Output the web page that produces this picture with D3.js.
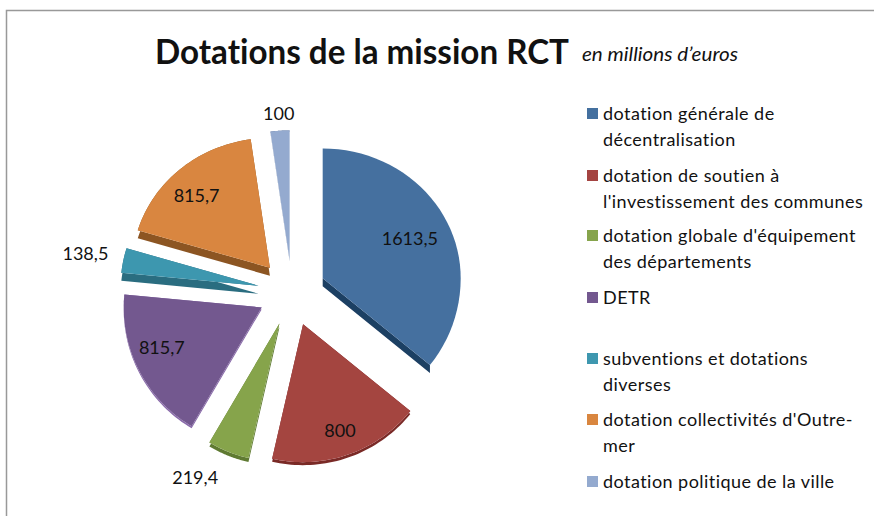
<!DOCTYPE html>
<html>
<head>
<meta charset="utf-8">
<script src="https://cdn.jsdelivr.net/npm/d3@7"></script>
<style>
    html, body { margin: 0; padding: 0; background: #fff; }
    svg { display: block; }
    text { font-family: Lato, "Open Sans", sans-serif; fill: #111; font-variant-ligatures: none; }
</style>
</head>
<body>
<div id="chart"></div>
<script>
const categories = [
    ["dotation générale de", "décentralisation"],
    ["dotation de soutien à", "l'investissement des communes"],
    ["dotation globale d'équipement", "des départements"],
    ["DETR"],
    ["subventions et dotations", "diverses"],
    ["dotation collectivités d'Outre-", "mer"],
    ["dotation politique de la ville"]
];
const values = [1613.5, 800, 219.4, 815.7, 138.5, 815.7, 100];
const valueLabels = ["1613,5", "800", "219,4", "815,7", "138,5", "815,7", "100"];

const colors = ["#44709f", "#a44441", "#86a44c", "#73588f", "#3e97af", "#d9863f", "#94aacf"];
const sideColors = ["#1f3f63", "#7a2a28", "#5f7a33", "#8a6bab", "#2b6d80", "#8c5524", "#4f678f"];
const edgeDepth = [8, 3, 4, 2, 8, 8, 1];
const arcDepth = [0, 3, 4, 2, 8, 8, 1];
const labelRadius = [0.70, 0.82, 1.27, 0.78, 1.28, 0.77, 1.13]; // share of the slice radius
const labelTurn = [0, 0, 7, 5, 0, -3, 0]; // degrees away from the slice middle
const legendRowY = [114, 176, 236, 298, 359, 420, 482];

const width = 874, height = 516;
const cx = 292, cy = 292, radius = 138, explode = 34;
const topSquash = 0.94; // the far side of the pie is foreshortened

const svg = d3.select("#chart").append("svg")
    .attr("width", width)
    .attr("height", height);

svg.append("filter").attr("id", "soft")
    .append("feGaussianBlur").attr("stdDeviation", 0.4);

// frame, only top and left are visible
svg.append("path")
    .attr("d", d3.line()([[width, 10.5], [6.5, 10.5], [6.5, height]]))
    .attr("fill", "none")
    .attr("stroke", "#999")
    .attr("stroke-width", 1.5);

svg.append("text")
    .attr("x", 155).attr("y", 64)
    .attr("font-size", 34)
    .attr("font-weight", 700)
    .attr("textLength", 414)
    .attr("lengthAdjust", "spacingAndGlyphs")
    .text("Dotations de la mission RCT");
svg.append("text")
    .attr("x", 582).attr("y", 61)
    .attr("font-size", 18.5)
    .attr("font-style", "italic")
    .attr("textLength", 156)
    .attr("lengthAdjust", "spacingAndGlyphs")
    .text("en millions d’euros");

const pie = d3.pie().sort(null)(values);
const midAngle = d => (d.startAngle + d.endAngle) / 2;

function project(angle, r) {
    const c = Math.cos(angle);
    return [r * Math.sin(angle), -r * c * (c > 0 ? topSquash : 1)];
}

function sliceOutline(d) {
    const steps = d3.range(0, 41).map(i => d.startAngle + (d.endAngle - d.startAngle) * i / 40);
    return [[0, 0]].concat(steps.map(a => project(a, radius)));
}

function labelPoint(d, i) {
    return project(midAngle(d) + labelTurn[i] * Math.PI / 180, radius * labelRadius[i]);
}

const line = d3.line();

const slices = svg.append("g")
    .attr("transform", `translate(${cx},${cy})`)
    .selectAll("g")
    .data(pie)
    .join("g")
    .attr("transform", d => {
        const o = project(midAngle(d), explode);
        return `translate(${o[0]},${o[1]})`;
    });

// side faces: one quad for every edge of the outline, pushed down by the depth
slices.append("path")
    .attr("fill", (d, i) => sideColors[i])
    .attr("filter", "url(#soft)")
    .attr("d", (d, i) => {
        const pts = sliceOutline(d);
        return pts.map((p, j) => {
            const q = pts[(j + 1) % pts.length];
            const straight = j === 0 || j === pts.length - 1;
            const depth = straight ? edgeDepth[i] : arcDepth[i];
            return line([p, q, [q[0], q[1] + depth], [p[0], p[1] + depth]]) + "Z";
        }).join("");
    });

slices.append("path")
    .attr("fill", (d, i) => colors[i])
    .attr("filter", "url(#soft)")
    .attr("d", d => line(sliceOutline(d)) + "Z");

slices.append("text")
    .attr("text-anchor", "middle")
    .attr("dy", "0.35em")
    .attr("font-size", 18)
    .attr("x", (d, i) => labelPoint(d, i)[0])
    .attr("y", (d, i) => labelPoint(d, i)[1])
    .text((d, i) => valueLabels[i]);

// legend
const legend = svg.append("g")
    .selectAll("g")
    .data(categories)
    .join("g")
    .attr("transform", (d, i) => `translate(587,${legendRowY[i]})`);

legend.append("rect")
    .attr("y", -6)
    .attr("width", 11)
    .attr("height", 11)
    .attr("fill", (d, i) => colors[i]);

legend.selectAll("text")
    .data(d => d)
    .join("text")
    .attr("x", 16)
    .attr("y", (d, i) => i * 25.5)
    .attr("dy", "0.35em")
    .attr("font-size", 18)
    .attr("letter-spacing", 0.45)
    .text(d => d);
</script>
</body>
</html>
